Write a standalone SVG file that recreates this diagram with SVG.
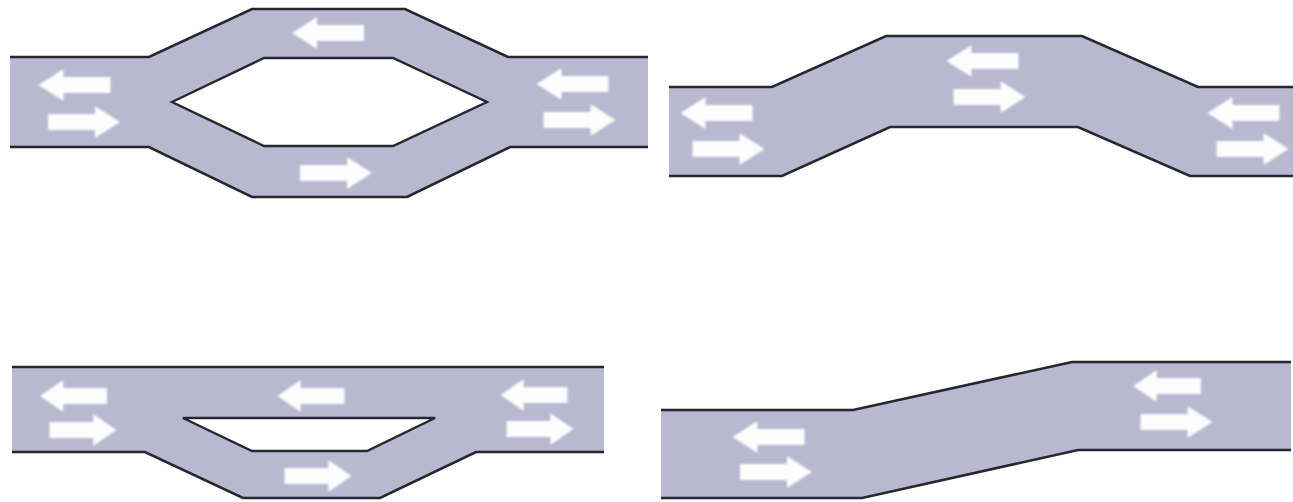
<svg xmlns="http://www.w3.org/2000/svg" xmlns:xlink="http://www.w3.org/1999/xlink" width="1293" height="502" viewBox="0 0 1293 502">
<style>
.road{fill:#b8b8d0;stroke:none}
.edge{fill:none;stroke:#26262e;stroke-width:2.6;stroke-linejoin:miter;filter:url(#line)}
.hole{fill:#fff;stroke:#26262e;stroke-width:2.4;stroke-linejoin:miter;filter:url(#line)}
.arrow{fill:#fdfdfd;filter:url(#soft)}
</style>
<defs>
<filter id="soft" x="-10%" y="-20%" width="120%" height="140%"><feGaussianBlur stdDeviation="1"/></filter>
<filter id="line" x="-5%" y="-10%" width="110%" height="120%"><feGaussianBlur stdDeviation="0.4"/></filter>
<path id="L" d="M-36,0L-11,-16V-8H36V8H-11V16Z"/>
<path id="R" d="M36,0L11,-16V-8H-36V8H11V16Z"/>
</defs>
<rect width="1293" height="502" fill="#fff"/>
<g id="loop-road">
<path class="road" d="M10,57H149L252,9H405L508,57H648V147H510L407,197H252L149,147H10Z"/>
<path class="edge" d="M10,57H149L252,9H405L508,57H648M10,147H149L252,197H407L510,147H648"/>
<path class="hole" d="M172,102L264,58H393L487,102L393,146H264Z"/>
<g class="arrow">
<use xlink:href="#L" transform="translate(74.500,85)"/>
<use xlink:href="#R" transform="translate(84,122)"/>
<use xlink:href="#L" transform="translate(328,33)"/>
<use xlink:href="#R" transform="translate(336,173)"/>
<use xlink:href="#L" transform="translate(572.500,84)"/>
<use xlink:href="#R" transform="translate(579.500,120)"/>
</g>
</g>
<g id="bulge-road">
<path class="road" d="M669,87H772L886,36H1082L1198,87H1293V176H1190L1078,127H890L782,176H669Z"/>
<path class="edge" d="M669,87H772L886,36H1082L1198,87H1293M669,176H782L890,127H1078L1190,176H1293"/>
<g class="arrow">
<use xlink:href="#L" transform="translate(716.500,113)"/>
<use xlink:href="#R" transform="translate(728.500,149)"/>
<use xlink:href="#L" transform="translate(982.500,61)"/>
<use xlink:href="#R" transform="translate(989.500,97)"/>
<use xlink:href="#L" transform="translate(1243.500,113)"/>
<use xlink:href="#R" transform="translate(1252.500,149)"/>
</g>
</g>
<g id="side-loop-road">
<path class="road" d="M12,367H604V452H476L380,498H243L145,452H12Z"/>
<path class="edge" d="M12,367H604M12,452H145L243,498H380L476,452H604"/>
<path class="hole" d="M183,418H435L367,451H252Z"/>
<g class="arrow">
<use xlink:href="#L" transform="translate(73.500,396) scale(.93,1)"/>
<use xlink:href="#R" transform="translate(83,430) scale(.93,1)"/>
<use xlink:href="#L" transform="translate(311,396) scale(.93,1)"/>
<use xlink:href="#L" transform="translate(534,395) scale(.93,1)"/>
<use xlink:href="#R" transform="translate(540,429) scale(.93,1)"/>
<use xlink:href="#R" transform="translate(318,476) scale(.93,1)"/>
</g>
</g>
<g id="shift-road">
<path class="road" d="M661,410H853L1072,362H1291V450H1078L862,498H661Z"/>
<path class="edge" d="M661,410H853L1072,362H1291M661,498H862L1078,450H1291"/>
<g class="arrow">
<use xlink:href="#L" transform="translate(768.500,437)"/>
<use xlink:href="#R" transform="translate(776,472)"/>
<use xlink:href="#L" transform="translate(1167,386) scale(.94,1)"/>
<use xlink:href="#R" transform="translate(1176.500,422)"/>
</g>
</g>
</svg>
